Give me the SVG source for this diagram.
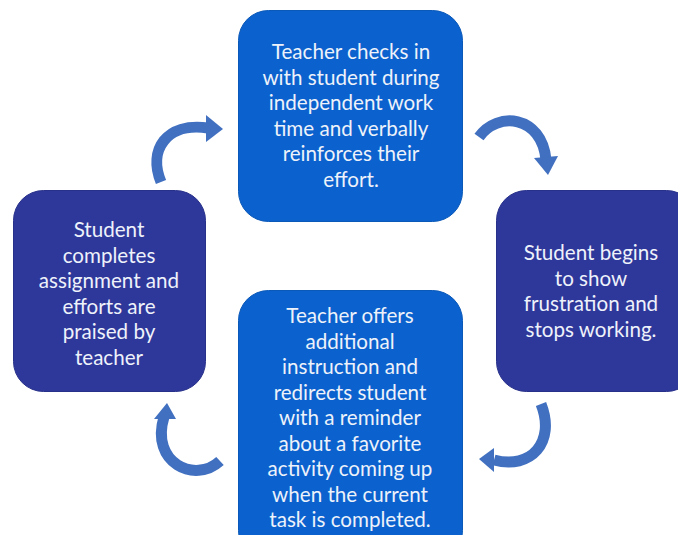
<svg xmlns="http://www.w3.org/2000/svg" width="678" height="535" viewBox="0 0 678 535">
<style>
.bright{fill:#0b62ce;stroke:#0a58b8;stroke-width:1}
.dark{fill:#2e389b;stroke:#28318a;stroke-width:1}
.t{font-family:Lato,"Open Sans",sans-serif;font-size:20.6px;fill:#eef2fa;text-anchor:middle}
.shaft{fill:none;stroke:#4170c0;stroke-width:11}
.head{fill:#4170c0}
</style>
<rect width="678" height="535" fill="#ffffff"/>
<g id="connectors">
  <path class="shaft" d="M161,182 C148,150 166,122 208,128"/>
  <polygon class="head" points="206,115 223,129 206,142"/>
  <path class="shaft" d="M479,137 C497,111 542,115 546,160"/>
  <polygon class="head" points="534,158 558,156 548,175"/>
  <path class="shaft" d="M541,404 C556,442 531,470 494,460"/>
  <polygon class="head" points="494,448 479,459 494,472"/>
  <path class="shaft" d="M220,461 C195,484 150,463 164,417"/>
  <polygon class="head" points="154,419 167,403 176,419"/>
</g>
<g id="node-top">
  <rect class="bright" x="238.5" y="10.5" width="224" height="211" rx="30"/>
  <text class="t" x="351" y="59">Teacher checks in</text>
  <text class="t" x="351" y="84.5">with student during</text>
  <text class="t" x="351" y="110">independent work</text>
  <text class="t" x="351" y="135.5">time and verbally</text>
  <text class="t" x="351" y="161">reinforces their</text>
  <text class="t" x="351" y="186.5">effort.</text>
</g>
<g id="node-right">
  <rect class="dark" x="496.5" y="190.5" width="200" height="201" rx="30"/>
  <text class="t" x="591" y="260">Student begins</text>
  <text class="t" x="591" y="285.5">to show</text>
  <text class="t" x="591" y="311">frustration and</text>
  <text class="t" x="591" y="336.5">stops working.</text>
</g>
<g id="node-bottom">
  <rect class="bright" x="238.5" y="290.5" width="224" height="270" rx="30"/>
  <text class="t" x="350" y="323">Teacher offers</text>
  <text class="t" x="350" y="348.5">additional</text>
  <text class="t" x="350" y="374">instruction and</text>
  <text class="t" x="350" y="399.5">redirects student</text>
  <text class="t" x="350" y="425">with a reminder</text>
  <text class="t" x="350" y="450.5">about a favorite</text>
  <text class="t" x="350" y="476">activity coming up</text>
  <text class="t" x="350" y="501.5">when the current</text>
  <text class="t" x="350" y="527">task is completed.</text>
</g>
<g id="node-left">
  <rect class="dark" x="13.5" y="190.5" width="192" height="201" rx="30"/>
  <text class="t" x="109" y="237">Student</text>
  <text class="t" x="109" y="262.5">completes</text>
  <text class="t" x="109" y="288">assignment and</text>
  <text class="t" x="109" y="313.5">efforts are</text>
  <text class="t" x="109" y="339">praised by</text>
  <text class="t" x="109" y="364.5">teacher</text>
</g>
</svg>
